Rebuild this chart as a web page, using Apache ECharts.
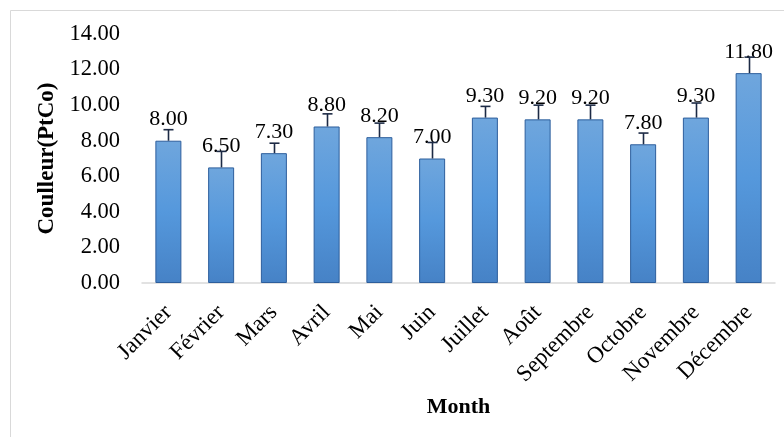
<!DOCTYPE html>
<html>
<head>
<meta charset="utf-8">
<script src="https://cdn.jsdelivr.net/npm/echarts@6/dist/echarts.min.js"></script>
<style>
html,body{margin:0;padding:0;background:#fff;}
#chart{width:784px;height:437px;}
</style>
</head>
<body>
<div id="chart"></div>
<script>
var months = ['Janvier','Février','Mars','Avril','Mai','Juin','Juillet','Août','Septembre','Octobre','Novembre','Décembre'];
var values = [8.00, 6.50, 7.30, 8.80, 8.20, 7.00, 9.30, 9.20, 9.20, 7.80, 9.30, 11.80];
var errors = [0.62, 0.90, 0.56, 0.71, 0.79, 0.90, 0.63, 0.80, 0.80, 0.63, 0.82, 0.90];
var yTicks = { min: 0, max: 14, interval: 2 };

var FONT = 'Liberation Serif';
var chart = echarts.init(document.getElementById('chart'), null, {renderer: 'canvas'});

var errData = values.map(function (v, i) { return [i, v, v + errors[i]]; });

chart.setOption({
  animation: false,
  backgroundColor: '#ffffff',
  graphic: [{
    type: 'rect',
    shape: { x: 10.5, y: 10.5, width: 800, height: 440 },
    style: { fill: 'none', stroke: '#d9d9d9', lineWidth: 1 },
    silent: true, z: -10
  }],
  grid: { left: 142, right: 9, top: 34, bottom: 154 },
  xAxis: {
    type: 'category',
    data: months,
    name: 'Month',
    nameLocation: 'middle',
    nameGap: 113,
    nameTextStyle: { fontFamily: FONT, fontWeight: 'bold', fontSize: 22, color: '#000' },
    axisLine: { show: true, lineStyle: { color: '#d9d9d9', width: 1.5 } },
    axisTick: { show: false },
    axisLabel: { rotate: 45, interval: 0, margin: 26, fontFamily: FONT, fontSize: 23, color: '#000' }
  },
  yAxis: {
    type: 'value',
    min: yTicks.min, max: yTicks.max, interval: yTicks.interval,
    name: 'Coulleur(PtCo)',
    nameLocation: 'middle',
    nameGap: 82,
    nameTextStyle: { fontFamily: FONT, fontWeight: 'bold', fontSize: 23, color: '#000' },
    axisLine: { show: false },
    axisTick: { show: false },
    splitLine: { show: false },
    axisLabel: { margin: 22, fontFamily: FONT, fontSize: 22.5, color: '#000',
      formatter: function (v) { return v.toFixed(2); } }
  },
  series: [{
    type: 'bar',
    data: values,
    barWidth: 26,
    itemStyle: {
      color: new echarts.graphic.LinearGradient(0, 0, 0, 1, [
        { offset: 0, color: '#6fa6dd' },
        { offset: 0.5, color: '#5598dc' },
        { offset: 1, color: '#4682c6' }
      ]),
      borderColor: '#2d5e9c',
      borderWidth: 1
    },
    label: {
      show: true, position: 'top', distance: 10,
      fontFamily: FONT, fontSize: 22, color: '#000',
      formatter: function (p) { return p.value.toFixed(2); }
    },
    z: 2
  }, {
    type: 'custom',
    data: errData,
    z: 3,
    renderItem: function (params, api) {
      var x = api.coord([api.value(0), api.value(1)]);
      var top = api.coord([api.value(0), api.value(2)]);
      var cx = Math.round(x[0]) + 0.5;
      return {
        type: 'group',
        children: [{
          type: 'line',
          shape: { x1: cx, y1: x[1], x2: cx, y2: top[1] },
          style: { stroke: '#1c2a45', lineWidth: 1.6 }
        }, {
          type: 'line',
          shape: { x1: cx - 5, y1: top[1], x2: cx + 5, y2: top[1] },
          style: { stroke: '#1c2a45', lineWidth: 1.6 }
        }]
      };
    }
  }]
});
</script>
</body>
</html>
